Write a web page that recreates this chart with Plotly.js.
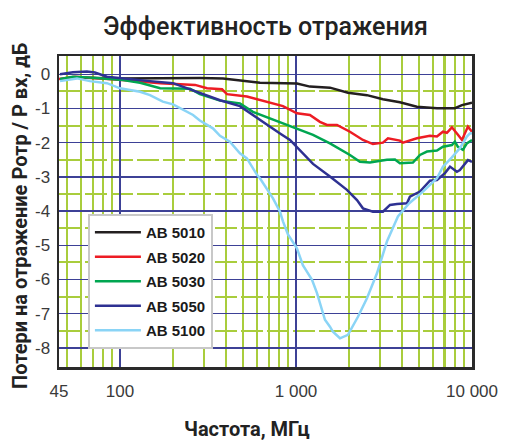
<!DOCTYPE html>
<html>
<head>
<meta charset="utf-8">
<script src="https://cdn.plot.ly/plotly-3.0.1.min.js"></script>
<style>
  html, body { margin: 0; padding: 0; background: #fff; }
  #chart { width: 505px; height: 443px; }
</style>
</head>
<body>
<div id="chart"></div>
<script>
// Reflection loss vs frequency for five AB models
const seriesNames = ['AB 5010', 'AB 5020', 'AB 5030', 'AB 5050', 'AB 5100'];
const seriesColors = ['#231f20', '#ed1c24', '#00a651', '#2e3192', '#8ad4f6'];

const freq5010 = [62, 100, 284, 385, 624, 760, 1012, 1199, 1560, 1973, 2530, 3118, 3893, 4863, 6321, 8000, 8770, 10000];
const loss5010 = [-0.10, -0.12, -0.11, -0.12, -0.25, -0.25, -0.27, -0.36, -0.39, -0.54, -0.61, -0.73, -0.82, -0.95, -0.99, -0.99, -0.90, -0.83];

const freq5020 = [45, 55.5, 103, 169, 267, 312, 380, 405, 526, 624, 739, 843, 1012, 1199, 1367, 1499, 1709, 2025, 2400, 2735, 3118, 3330, 3893, 4050, 4863, 5767, 6321, 6836, 7200, 7690, 8318, 8770, 9480, 10000];
const loss5020 = [-0.14, -0.07, -0.17, -0.26, -0.31, -0.41, -0.44, -0.58, -0.65, -0.75, -0.85, -0.93, -1.14, -1.19, -1.39, -1.48, -1.48, -1.68, -1.92, -2.04, -2.00, -1.87, -1.94, -2.00, -1.87, -1.80, -1.82, -1.68, -1.71, -1.55, -1.77, -1.92, -1.53, -1.68];

const freq5030 = [45.6, 54, 70, 104, 130, 148, 169, 250, 284, 370, 480, 569, 711, 961, 1249, 1559, 2025, 2307, 2630, 3285, 3650, 3893, 4617, 5061, 5550, 6321, 6836, 7690, 7995, 8318, 8876, 9350, 10000];
const loss5030 = [-0.14, -0.07, -0.10, -0.17, -0.25, -0.33, -0.41, -0.42, -0.58, -0.77, -0.85, -1.10, -1.29, -1.53, -1.77, -2.02, -2.36, -2.56, -2.58, -2.50, -2.49, -2.60, -2.58, -2.36, -2.26, -2.23, -2.12, -2.07, -1.97, -2.12, -2.21, -2.02, -1.92];

const freq5050 = [45.6, 54, 64.8, 72, 84.3, 109.5, 148, 200, 240, 284, 370, 480, 600, 811, 924, 1052, 1249, 1559, 1947, 2220, 2400, 2735, 3118, 3420, 3748, 4270, 4440, 5061, 5767, 6321, 7020, 7499, 8205, 8536, 8876, 9480, 10000];
const loss5050 = [0.00, 0.06, 0.08, 0.05, -0.07, -0.14, -0.20, -0.26, -0.41, -0.55, -0.76, -0.93, -1.28, -1.73, -1.92, -2.21, -2.62, -2.99, -3.38, -3.68, -3.92, -4.02, -4.02, -3.82, -3.79, -3.77, -3.58, -3.43, -3.11, -3.09, -2.89, -2.70, -2.85, -2.80, -2.70, -2.51, -2.56];

const freq5100 = [45.6, 49.9, 56.9, 67.4, 84.3, 100, 130, 148, 175, 200, 260, 284, 337, 370, 421, 480, 526, 600, 624, 740, 811, 843, 900, 1012, 1094, 1153, 1233, 1316, 1423, 1460, 1559, 1621, 1777, 1973, 2249, 2530, 2884, 3285, 3510, 3795, 4400, 5265, 6321, 6836, 7690, 8536, 9350, 9730, 10000];
const loss5100 = [-0.20, -0.17, -0.12, -0.20, -0.26, -0.41, -0.51, -0.61, -0.80, -0.88, -1.19, -1.35, -1.58, -1.80, -1.97, -2.31, -2.46, -2.94, -3.04, -3.63, -4.02, -4.30, -4.68, -5.09, -5.58, -5.77, -6.01, -6.40, -7.04, -7.18, -7.38, -7.53, -7.72, -7.62, -7.09, -6.55, -5.82, -4.89, -4.55, -4.16, -3.77, -3.43, -3.04, -2.70, -2.43, -2.16, -1.82, -1.73, -1.72];

const seriesFreq = [freq5010, freq5020, freq5030, freq5050, freq5100];
const seriesLoss = [loss5010, loss5020, loss5030, loss5050, loss5100];

// Axis ticks
const xTickVals = [45, 100, 1000, 10000];
const xTickText = ['45', '100', '1 000', '10 000'];
const yTickVals = [0, -1, -2, -3, -4, -5, -6, -7, -8];
const yTickText = ['0', '-1', '-2', '-3', '-4', '-5', '-6', '-7', '-8'];

// Minor log grid (2..9 of each decade) and half-dB grid
const xMinor = [];
[10, 100, 1000].forEach(function (dec) {
  for (let k = 2; k <= 9; k++) {
    const v = k * dec;
    if (v > 45 && v < 10000) xMinor.push(v);
  }
});
const yMinor = [];
for (let v = -0.5; v >= -8; v -= 1) yMinor.push(v);

const traces = seriesNames.map(function (name, i) {
  return {
    type: 'scatter',
    mode: 'lines',
    name: name,
    legendgroup: name,
    x: seriesFreq[i],
    y: seriesLoss[i],
    line: { color: seriesColors[i], width: 2.5 },
    hoverinfo: 'skip'
  };
});

const headFont = 'Roboto, "DejaVu Sans Condensed", sans-serif';
const navy = '#3d4196';
const lime = '#a9cd3c';

const layout = {
  width: 505,
  height: 443,
  paper_bgcolor: '#ffffff',
  plot_bgcolor: '#ffffff',
  margin: { l: 59, r: 33, t: 56, b: 76 },
  showlegend: true,
  title: {
    text: 'Эффективность отражения',
    x: 0.5,
    xref: 'paper',
    xanchor: 'center',
    y: 1 - 26 / 443,
    yanchor: 'middle',
    font: { family: headFont, size: 25, color: '#222222', weight: 500 }
  },
  xaxis: {
    type: 'log',
    range: [Math.log10(45), 4],
    tickmode: 'array',
    tickvals: xTickVals,
    ticktext: xTickText,
    ticks: '',
    ticklabelstandoff: 7,
    tickfont: { family: 'Liberation Sans, Arial, sans-serif', size: 17, color: '#3a3a3a' },
    showgrid: true,
    gridcolor: navy,
    gridwidth: 1.3,
    minor: { tickvals: xMinor, showgrid: true, gridcolor: lime, gridwidth: 2.5, ticks: '' },
    showline: true,
    mirror: true,
    linecolor: '#2a2a2a',
    linewidth: 2.5,
    zeroline: false,
    fixedrange: true
  },
  yaxis: {
    range: [-8.56, 0.535],
    tickmode: 'array',
    tickvals: yTickVals,
    ticktext: yTickText,
    ticks: '',
    ticklabelstandoff: 3,
    tickfont: { family: 'Liberation Sans, Arial, sans-serif', size: 17, color: '#3a3a3a' },
    showgrid: true,
    gridcolor: navy,
    gridwidth: 1.3,
    minor: { tickvals: yMinor, showgrid: true, gridcolor: lime, gridwidth: 2, griddash: '22px,4px', ticks: '' },
    showline: true,
    mirror: true,
    linecolor: '#2a2a2a',
    linewidth: 2.5,
    zeroline: false,
    fixedrange: true
  },
  legend: {
    x: 0.07,
    y: (367 - 214) / 311,
    xanchor: 'left',
    yanchor: 'top',
    bgcolor: '#ffffff',
    bordercolor: '#c8c8c8',
    borderwidth: 2,
    tracegroupgap: 2,
    itemwidth: 46,
    font: { family: 'Liberation Sans, Arial, sans-serif', size: 15, color: '#1a1a1a', weight: 'bold' }
  },
  annotations: [
    {
      text: 'Потери на отражение Ротр / Р вх, дБ',
      xref: 'paper', yref: 'paper',
      x: (20 - 59) / 413, y: (367 - 216) / 311,
      xanchor: 'center', yanchor: 'middle',
      textangle: -90,
      showarrow: false,
      font: { family: headFont, size: 20, color: '#222222', weight: 'bold' }
    },
    {
      text: 'Частота, МГц',
      xref: 'paper', yref: 'paper',
      x: (247 - 59) / 413, y: -(429 - 367) / 311,
      xanchor: 'center', yanchor: 'middle',
      showarrow: false,
      font: { family: headFont, size: 20, color: '#222222', weight: 'bold' }
    }
  ]
};

Plotly.newPlot('chart', traces, layout, { displayModeBar: false, staticPlot: true });
</script>
</body>
</html>
